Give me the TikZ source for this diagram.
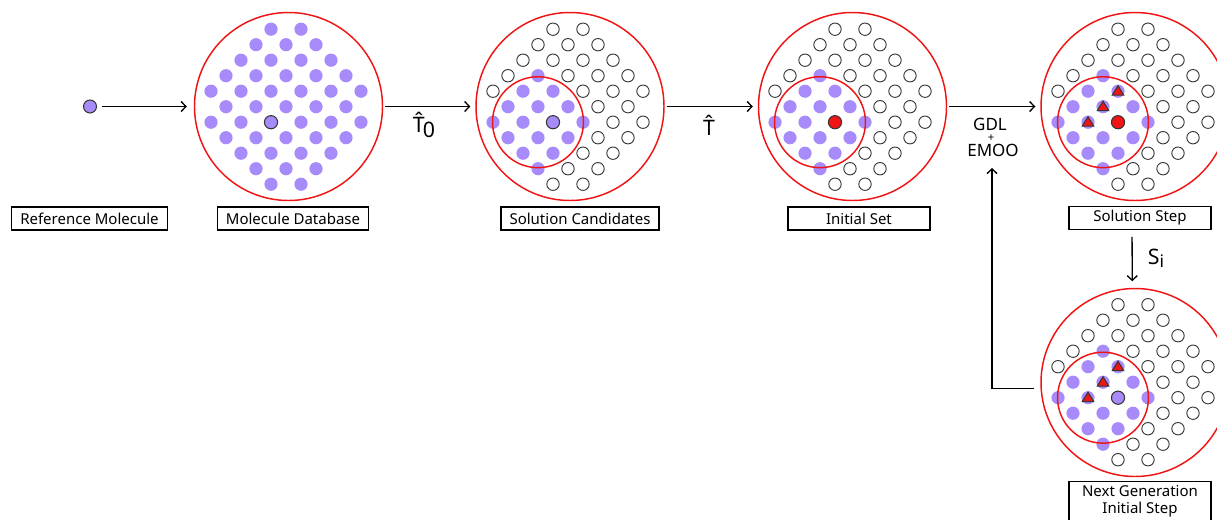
\documentclass[tikz,border=0pt]{standalone}
\usepackage{fontspec}
\setmainfont{Noto Sans}
\usetikzlibrary{arrows.meta}
\definecolor{molpurple}{RGB}{167,139,250}
\definecolor{moledge}{RGB}{55,55,55}
\definecolor{ringred}{RGB}{240,20,20}

\tikzset{
	stage/.style={draw=ringred, line width=1.1pt, circle, minimum size=141pt, inner sep=0pt},
	tag/.style={draw, line width=0.9pt, minimum width=106.5pt, minimum height=17.25pt, inner xsep=6.4pt, inner ysep=1pt, font=\fontsize{11.25}{13}\selectfont, align=center},
	flow/.style={->, line width=1pt, shorten <=1.5pt, shorten >=3.75pt},
	emptymol/.style={draw=moledge, fill=white, line width=0.7pt},
	refmol/.style={circle, fill=molpurple, draw=moledge, line width=0.8pt, minimum size=9.75pt, inner sep=0pt},
	pick/.style={fill=ringred, draw=moledge, line width=0.8pt},
	op/.style={font=\fontsize{16}{16}\selectfont, inner sep=0pt},
	algo/.style={font=\fontsize{12.75}{12.75}\selectfont, inner sep=0pt},
	>={Straight Barb[length=3.5pt,width=7.5pt]}
}

% lattice of molecules: #3=0 all purple, #3=1 with search radius
\newcommand{\molgrid}[3]{
	\foreach \row in {-5,...,5}{
		\foreach \col in {-5,...,5}{
			\pgfmathtruncatemacro{\onsite}{(abs(\row)+abs(\col)<=6)&&(mod(abs(\row+\col),2)==0)}
			\pgfmathtruncatemacro{\near}{(#3==0)||(abs(\row-1)+abs(\col+2)<=3)}
			\ifnum\onsite=1
				\ifnum\near=1
					\fill[molpurple] (#1+15*\col,#2+15.5*\row) circle (4.95pt);
				\else
					\draw[emptymol] (#1+15*\col,#2+15.5*\row) circle (4.65pt);
				\fi
			\fi
		}
	}
	\ifnum#3=1 \draw[ringred, line width=1.1pt] (#1-30,#2+15.5) circle (34.1pt); \fi
}
\newcommand{\hitmark}[2]{\filldraw[pick] (#1,#2) ++(0,-5.5) -- ++(5.8,9.5) -- ++(-11.6,0) -- cycle;}

\begin{document}
\begin{tikzpicture}[x=0.75pt, y=-0.75pt]
	\useasboundingbox (0,0) rectangle (1217,519);

	\node[refmol] (ref) at (90,106.5) {};
	\node[stage] (db) at (288.5,106.5) {};
	\node[stage] (cand) at (570,106.5) {};
	\node[stage] (init) at (852.5,106.5) {};
	\node[stage] (step) at (1135,106.5) {};
	\node[stage] (next) at (1135,382.5) {};

	\molgrid{286}{106.7}{0}
	\molgrid{568}{106.7}{1}
	\molgrid{850}{106.7}{1}
	\molgrid{1133}{106.7}{1}
	\molgrid{1133}{382.2}{1}

	\filldraw[fill=molpurple, draw=moledge, line width=0.8pt] (271,122.2) circle (4.95pt);
	\filldraw[fill=molpurple, draw=moledge, line width=0.8pt] (553,122.2) circle (4.95pt);
	\filldraw[pick] (835,122.2) circle (4.95pt);
	\filldraw[pick] (1118,122.2) circle (4.95pt);
	\filldraw[fill=molpurple, draw=moledge, line width=0.8pt] (1118,397.7) circle (4.95pt);
	\hitmark{1118}{91.2} \hitmark{1103}{106.7} \hitmark{1088}{122.2}
	\hitmark{1118}{366.7} \hitmark{1103}{382.2} \hitmark{1088}{397.7}

	\node[tag] (reftag) at (89.5,218.5) {Reference Molecule};
	\node[tag] (dbtag) at (293,218.5) {Molecule Database};
	\node[tag] (candtag) at (580,218.5) {Solution Candidates};
	\node[tag] (inittag) at (859,218.5) {Initial Set};
	\node[tag] (steptag) at (1140,218) {Solution Step};
	\node[tag, inner ysep=2.5pt] (nexttag) at (1140,501) {Next Generation\\Initial Step};

	\node[op] (t0) at (424,125) {\^{T}\kern-1.5pt\raisebox{-4.3pt}{0}};
	\node[op] (t) at (709,125) {\^{T}};
	\node[algo] (gdl) at (990,124) {GDL};
	\node[font=\fontsize{8.5}{8.5}\selectfont, inner sep=0pt] (plus) at (991,138) {+};
	\node[algo] (emoo) at (993,150) {EMOO};
	\node[font=\fontsize{16}{16}\selectfont, inner sep=0pt] (si) at (1156,258) {S\raisebox{-2.5pt}{\fontsize{13}{13}\selectfont i}};

	\draw[flow, shorten <=3.4pt, shorten >=5.25pt] (ref) -- (db);
	\draw[flow] (db) -- (cand);
	\draw[flow] (cand) -- (init);
	\draw[flow] (init) -- (step);
	\draw[flow, shorten <=5pt, shorten >=4.9pt] ([xshift=-6pt]steptag.south) -- ([xshift=-2pt]next.north);
	\draw[flow, shorten <=0pt, shorten >=0pt] ([xshift=-4.5pt,yshift=-4.3pt]next.west) -| ([xshift=-0.75pt,yshift=-13.5pt]emoo.center);
\end{tikzpicture}
\end{document}
